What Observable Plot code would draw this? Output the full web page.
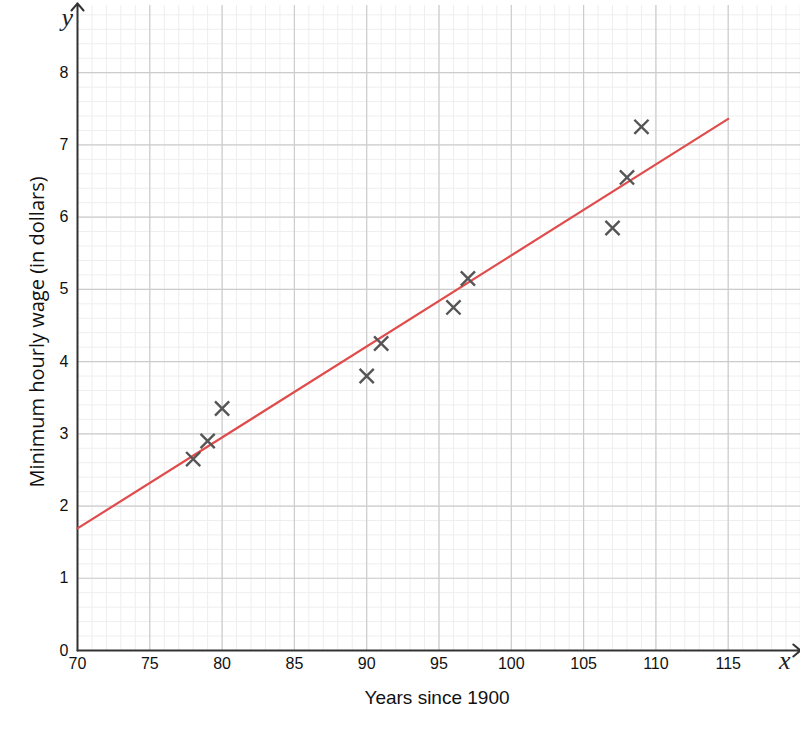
<!DOCTYPE html>
<html>
<head>
<meta charset="utf-8">
<script src="https://cdn.jsdelivr.net/npm/d3@7"></script>
<script src="https://cdn.jsdelivr.net/npm/@observablehq/plot@0.6"></script>
<style>
  html, body { margin: 0; padding: 0; background: #fff; }
  svg { display: block; }
</style>
</head>
<body>
<div id="chart"></div>
<script>
// Data
const years = [78, 79, 80, 90, 91, 96, 97, 107, 108, 109];
const wages = [2.65, 2.90, 3.35, 3.80, 4.25, 4.75, 5.15, 5.85, 6.55, 7.25];
const fitX = [70, 115];
const fitY = [1.69, 7.36];
const xTicks = [70, 75, 80, 85, 90, 95, 100, 105, 110, 115];
const yTicks = [0, 1, 2, 3, 4, 5, 6, 7, 8];
const xTitle = "Years since 1900";
const yTitle = "Minimum hourly wage (in dollars)";

const xDomain = [70, 120];
const yDomain = [0, 8.93];

const points = years.map((x, i) => ({x, y: wages[i]}));
const fit = fitX.map((x, i) => ({x, y: fitY[i]}));

const xMinor = d3.range(xDomain[0], xDomain[1] + 0.001, 1);
const yMinor = d3.range(0, 8.9, 0.2).map(v => +v.toFixed(2));
const xMajor = d3.range(70, 121, 5);

const sans = "'Liberation Sans', Arial, Helvetica, sans-serif";
const serif = "'Liberation Serif', 'DejaVu Serif', serif";

const chart = Plot.plot({
  width: 800,
  height: 735,
  marginLeft: 77,
  marginRight: 0,
  marginTop: 5,
  marginBottom: 85,
  style: {fontFamily: sans, fontSize: "16px", background: "#fff", overflow: "visible"},
  x: {domain: xDomain},
  y: {domain: yDomain},
  marks: [
    Plot.ruleX(xMinor, {stroke: "#eeeeee", strokeWidth: 1}),
    Plot.ruleY(yMinor, {stroke: "#eeeeee", strokeWidth: 1}),
    Plot.ruleX(xMajor, {stroke: "#cccccc", strokeWidth: 1.2}),
    Plot.ruleY(yTicks, {stroke: "#cccccc", strokeWidth: 1.2}),
    Plot.axisX({ticks: xTicks, tickSize: 0, tickPadding: 7, fontSize: 16, fill: "#111", label: null}),
    Plot.axisY({ticks: yTicks, tickSize: 0, tickPadding: 9, fontSize: 16, fill: "#111", label: null}),
    // axis lines with arrowheads
    Plot.arrow([{x1: 70, y1: 0, x2: 120, y2: 0}], {x1: "x1", y1: "y1", x2: "x2", y2: "y2", stroke: "#333", strokeWidth: 2, headLength: 7, headAngle: 80}),
    Plot.arrow([{x1: 70, y1: 0, x2: 70, y2: 8.96}], {x1: "x1", y1: "y1", x2: "x2", y2: "y2", stroke: "#333", strokeWidth: 2, headLength: 7, headAngle: 80}),
    Plot.line(fit, {x: "x", y: "y", stroke: "#e04b4b", strokeWidth: 2.2}),
    Plot.dot(points, {x: "x", y: "y", symbol: "times", r: 6.5, stroke: "#555", strokeWidth: 2.4}),
    Plot.text([xTitle], {frameAnchor: "bottom", textAnchor: "middle", dy: 53, dx: -2, fontSize: 19, fill: "#111", fontFamily: sans}),
    Plot.text([yTitle], {frameAnchor: "left", textAnchor: "middle", rotate: -90, dx: -40, dy: 4, fontSize: 20, fill: "#111", fontFamily: "'Open Sans', 'Noto Sans', sans-serif"}),
    Plot.text(["x"], {frameAnchor: "bottom-right", dx: -10, dy: 18, fontSize: 26, fontStyle: "italic", fontFamily: serif, fill: "#222"}),
    Plot.text(["y"], {frameAnchor: "top-left", dx: -16, dy: 2, fontSize: 26, fontStyle: "italic", fontFamily: serif, fill: "#222"})
  ]
});
document.getElementById("chart").appendChild(chart);
</script>
</body>
</html>
